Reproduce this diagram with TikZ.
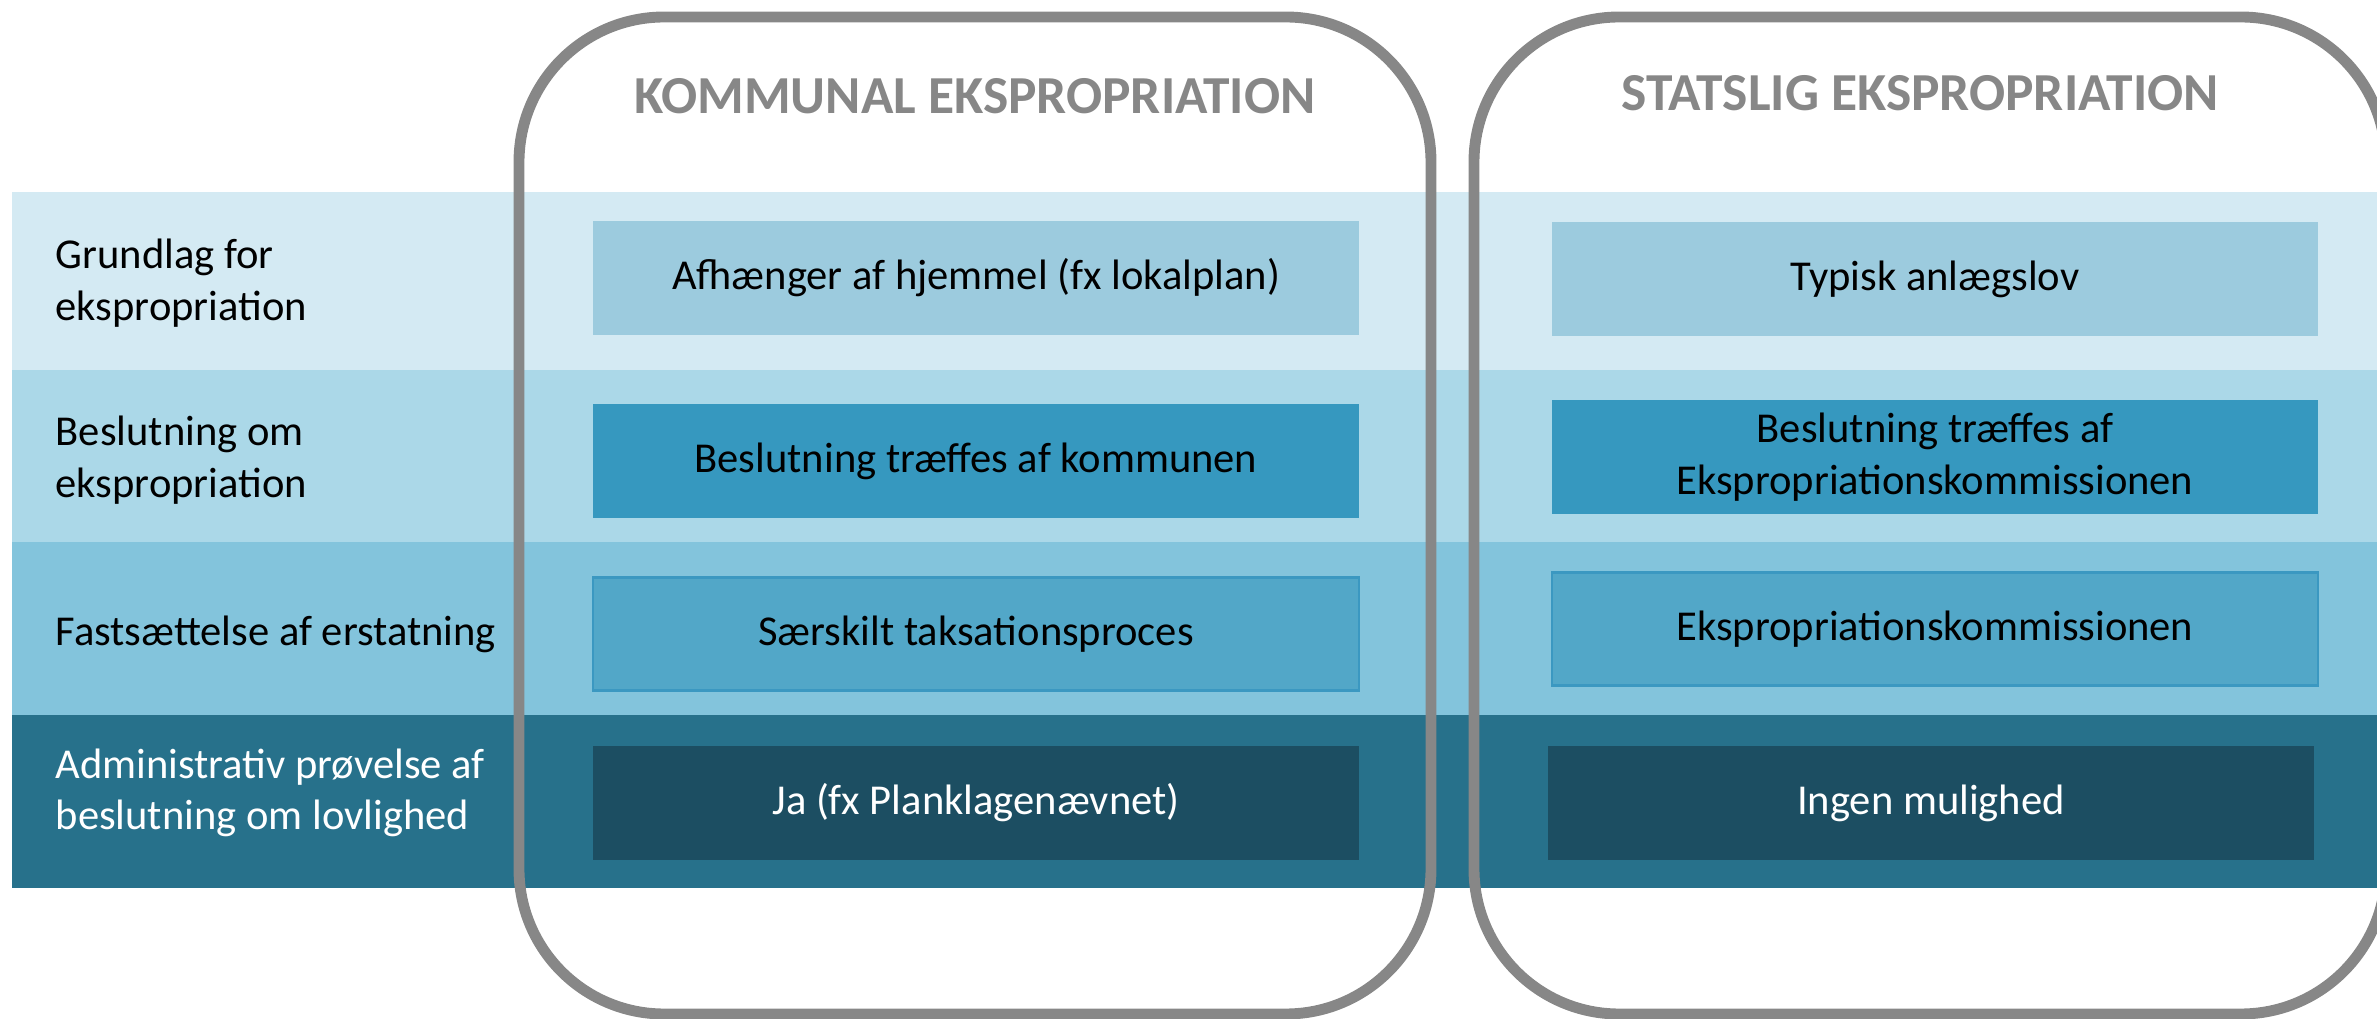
\documentclass[tikz,border=0pt]{standalone}
\usepackage{fontspec}
\setmainfont{Carlito}
\usepackage{tikz}

\definecolor{bandA}{HTML}{D4EAF3}
\definecolor{bandB}{HTML}{ABD8E8}
\definecolor{bandC}{HTML}{83C4DC}
\definecolor{bandD}{HTML}{27718B}
\definecolor{boxA}{HTML}{9CCBDE}
\definecolor{boxB}{HTML}{3698BF}
\definecolor{boxC}{HTML}{52A7C8}
\definecolor{boxCline}{HTML}{3B98C1}
\definecolor{boxD}{HTML}{1C4E62}
\definecolor{framegray}{HTML}{878787}

\begin{document}
\begin{tikzpicture}[x=0.01cm, y=-0.01cm,
    txt/.style={font=\fontsize{12.1}{14.6}\selectfont, inner sep=0pt},
    cell/.style={txt, align=center, minimum width=7.66cm, minimum height=1.13cm, outer sep=0pt},
    rowlabel/.style={txt, align=left, anchor=west},
    frame/.style={draw=framegray, line width=3.1pt, rounded corners=1.45cm},
    title/.style={font=\bfseries\fontsize{15.2}{18}\selectfont, text=framegray}]
        \useasboundingbox (0,0) rectangle (2377,1019);
        \clip (0,0) rectangle (2377,1019);
        % rows
        \fill[bandA] (12,192) rectangle (2377,370);
        \fill[bandB] (12,370) rectangle (2377,542);
        \fill[bandC] (12,542) rectangle (2377,715);
        \fill[bandD] (12,715) rectangle (2377,888);
        % columns
        \draw[frame] (519,17) rectangle (1431,1014);
        \draw[frame] (1474,17) rectangle (2386,1014);
        \node[title] at (975,96) (komtitle){KOMMUNAL EKSPROPRIATION};
        \node[title] at (1920,93) (stattitle){STATSLIG EKSPROPRIATION};
        % labels
        \node[rowlabel] at (55,283) (grundlag){Grundlag for\\ekspropriation};
        \node[rowlabel] at (55,460) (beslutning){Beslutning om\\ekspropriation};
        \node[rowlabel] at (55,634) (fastsaet){Fastsættelse af erstatning};
        \node[rowlabel, text=white] at (55,793) (proevelse){Administrativ prøvelse af\\beslutning om lovlighed};
        % cells
        \node[cell, fill=boxA] at (976,278) (komgrund){Afhænger af hjemmel (fx lokalplan)};
        \node[cell, fill=boxA] at (1935,279) (statgrund){Typisk anlægslov};
        \node[cell, fill=boxB] at (976,461) (kombeslut){Beslutning træffes af kommunen};
        \node[cell, fill=boxB] at (1935,457) (statbeslut){Beslutning træffes af\\Ekspropriationskommissionen};
        \node[cell, fill=boxC, draw=boxCline, line width=0.7pt] at (976,634) (komerstat){Særskilt taksationsproces};
        \node[cell, fill=boxC, draw=boxCline, line width=0.7pt] at (1935,629) (staterstat){Ekspropriationskommissionen};
        \node[cell, fill=boxD, text=white] at (976,803) (komproev){Ja (fx Planklagenævnet)};
        \node[cell, fill=boxD, text=white] at (1931,803) (statproev){Ingen mulighed};
\end{tikzpicture}
\end{document}
